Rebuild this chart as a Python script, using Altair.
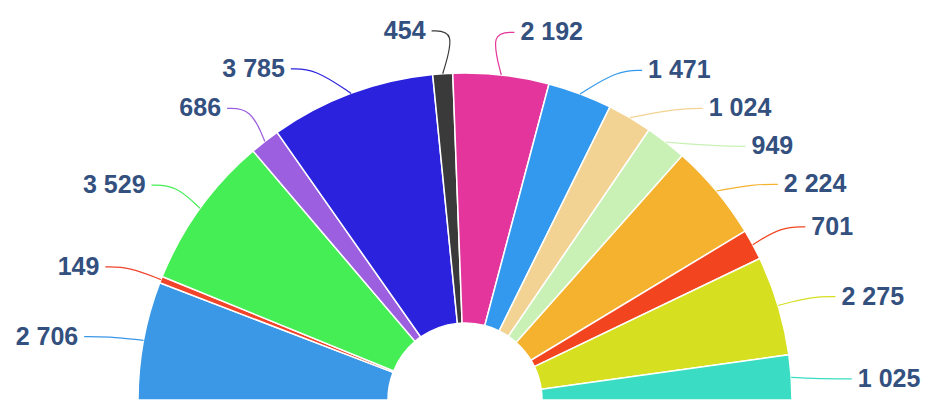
import math
import altair as alt
import pandas as pd

# ---- data ----
ids = ["s01", "s02", "s03", "s04", "s05", "s06", "s07",
       "s08", "s09", "s10", "s11", "s12", "s13", "s14"]
values = [2706, 149, 3529, 686, 3785, 454, 2192,
          1471, 1024, 949, 2224, 701, 2275, 1025]
colors = ["#3A98E6", "#F0452A", "#45EE55", "#9B5FE0", "#2B22DD", "#3A3A3A", "#E3359B",
          "#3399EE", "#F3D394", "#C9F1B5", "#F4B22E", "#F2451F", "#D7DF21", "#3ADDC3"]

# ---- layout ----
W, H = 914, 393
CX, CY = 457, 392
R_OUT, R_IN = 327, 77
LABEL_R = 375
GAP = 38

total = sum(values)
rows, conn = [], []
cum = 0
items = []
for i, (k, v) in enumerate(zip(ids, values)):
    mid = (cum + v / 2) / total * math.pi  # from left, clockwise over the top
    cum += v
    ax = CX - R_OUT * math.cos(mid)
    ay = CY - R_OUT * math.sin(mid)
    side = "L" if mid < math.pi / 2 else "R"
    ideal = CY + 5 - LABEL_R * math.sin(mid)
    items.append(dict(id=k, v=v, idx=i, mid=mid, ax=ax, ay=ay, side=side, ly=ideal))

for side in ("L", "R"):
    grp = sorted([it for it in items if it["side"] == side], key=lambda d: d["ly"])
    prev = None
    for it in grp:
        if prev is not None and it["ly"] < prev + GAP:
            it["ly"] = prev + GAP
        prev = it["ly"]

for it in items:
    dy = min(370, CY - it["ly"])
    xoff = math.sqrt(max(0.0, 370 ** 2 - dy ** 2)) + 14 + 10 * (1 - dy / 370)
    sgn = -1 if it["side"] == "L" else 1
    lx = CX + sgn * xoff
    label = f"{it['v']:,}".replace(",", " ")
    rows.append(dict(id=it["id"], x=lx, y=it["ly"], label=label,
                     align="right" if sgn < 0 else "left"))
    e0 = lx - sgn * 6
    e1 = e0 - sgn * 24
    for j, (px, py) in enumerate([(e0, it["ly"]), (e1, it["ly"]), (it["ax"], it["ay"])]):
        conn.append(dict(id=it["id"], pt=j, x=px, y=py))

pie_df = pd.DataFrame({"id": ids, "value": values, "idx": list(range(len(ids)))})
lab_df = pd.DataFrame(rows)
conn_df = pd.DataFrame(conn)

color = alt.Color("id:N", scale=alt.Scale(domain=ids, range=colors), legend=None)
xs = alt.Scale(domain=[0, W], range=[0, W], nice=False, zero=False)
ys = alt.Scale(domain=[0, H], range=[0, H], nice=False, zero=False)

arcs = alt.Chart(pie_df).mark_arc(
    radius=R_OUT, radius2=R_IN, stroke="white", strokeWidth=1.5
).encode(
    theta=alt.Theta("value:Q", stack=True,
                    scale=alt.Scale(range=[-math.pi / 2, math.pi / 2])),
    order=alt.Order("idx:Q"),
    color=color,
    x=alt.value(CX),
    y=alt.value(CY),
)

lines = alt.Chart(conn_df).mark_line(interpolate="basis", strokeWidth=1.2).encode(
    x=alt.X("x:Q", scale=xs, axis=None),
    y=alt.Y("y:Q", scale=ys, axis=None),
    color=color,
    detail="id:N",
    order="pt:Q",
)

def text_layer(al):
    return alt.Chart(lab_df[lab_df["align"] == al]).mark_text(
        align=al, baseline="middle", font="Liberation Sans", fontSize=25,
        fontWeight="bold", color="#33507F"
    ).encode(
        x=alt.X("x:Q", scale=xs, axis=None),
        y=alt.Y("y:Q", scale=ys, axis=None),
        text="label:N",
    )

chart = alt.layer(arcs, lines, text_layer("right"), text_layer("left")).properties(
    width=W, height=H, padding=0, autosize=alt.AutoSizeParams(type="none")
).configure_view(stroke=None)

chart.save("out.html", embed_options={"renderer": "svg", "actions": False})
